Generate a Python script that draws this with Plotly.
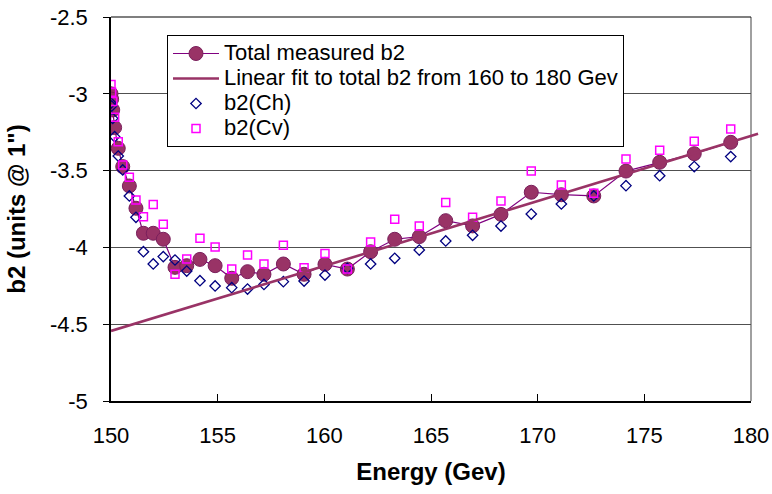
import numpy as np
import plotly.graph_objects as go

# Beam energy (GeV) of each measurement
energy = [150.0, 150.03, 150.08, 150.17, 150.34, 150.55, 150.86, 151.17, 151.52, 151.98,
          152.45, 153.0, 153.55, 154.17, 154.88, 155.66, 156.4, 157.17, 158.08, 159.05,
          160.03, 161.08, 162.17, 163.3, 164.45, 165.69, 166.95, 168.28, 169.7, 171.11,
          172.63, 174.14, 175.72, 177.34, 179.05]

# Total measured b2 (units @ 1")
total_b2 = [-3.0, -3.035, -3.105, -3.22, -3.355, -3.474, -3.60, -3.745, -3.908, -3.908,
            -3.947, -4.13, -4.119, -4.078, -4.119, -4.201, -4.158, -4.175, -4.108, -4.175,
            -4.11, -4.141, -4.028, -3.947, -3.93, -3.826, -3.86, -3.785, -3.641, -3.657,
            -3.665, -3.503, -3.446, -3.39, -3.316]

# Horizontal-coil component b2(Ch)
b2_ch = [-3.06, -3.08, -3.16, -3.279, -3.405, -3.496, -3.665, -3.804, -4.028, -4.108,
         -4.06, -4.082, -4.154, -4.217, -4.251, -4.262, -4.271, -4.241, -4.223, -4.219,
         -4.18, -4.136, -4.108, -4.071, -4.017, -3.958, -3.921, -3.861, -3.783, -3.717,
         -3.665, -3.598, -3.533, -3.474, -3.409]

# Vertical-coil component b2(Cv)
b2_cv = [-2.94, -2.99, -3.05, -3.153, -3.312, -3.464, -3.544, -3.691, -3.80, -3.72,
         -3.85, -4.175, -4.076, -3.941, -3.997, -4.141, -4.05, -4.108, -3.986, -4.132,
         -4.039, -4.141, -3.965, -3.817, -3.861, -3.707, -3.804, -3.698, -3.503, -3.594,
         -3.648, -3.424, -3.368, -3.309, -3.229]

series_names = ["Total measured b2", "Linear fit to total b2 from 160 to 180 Gev",
                "b2(Ch)", "b2(Cv)"]

# Fit window and the span over which the fitted line is drawn
fit_window = [160, 180]
fit_span = [150, 180.33]

x_ticks = [150, 155, 160, 165, 170, 175, 180]
y_ticks = [-5, -4.5, -4, -3.5, -3, -2.5]

# Least-squares line through the total b2 inside the fit window
e = np.array(energy)
t = np.array(total_b2)
sel = (e >= fit_window[0]) & (e <= fit_window[1])
slope, intercept = np.polyfit(e[sel], t[sel], 1)
fit_y = [intercept + slope * x for x in fit_span]

W, H = 772, 494
L, R, T, B = 111, 0, 17, 93
plot_w = W - L - R
axis_w = 640
x_dom_end = axis_w / plot_w
x_min, x_max = x_ticks[0], x_ticks[-1]
x2_max = x_min + plot_w * (x_max - x_min) / axis_w

FONT = "Liberation Sans, Arial, sans-serif"
PLUM = "#993366"

# Legend rows are packed tightly: the legend's own font size sets the row
# pitch (1.3 * size + 3 px), while the entry text is rendered larger via a span.
LEGEND_TEXT_PX = 22
LEGEND_ROW_PITCH = 25
LEGEND_ROW_FONT = (LEGEND_ROW_PITCH - 3) / 1.3


def legend_label(text):
    return '<span style="font-size:%dpx">%s</span>' % (LEGEND_TEXT_PX, text)


fig = go.Figure()

fig.add_trace(go.Scatter(
    x=energy, y=total_b2, name=legend_label(series_names[0]), mode="lines+markers", legendrank=1,
    line=dict(color="#800080", width=1.2),
    marker=dict(symbol="circle", size=14, color=PLUM, line=dict(color="#7a1f5c", width=1)),
))

fig.add_trace(go.Scatter(
    x=energy, y=b2_ch, name=legend_label(series_names[2]), mode="markers", legendrank=3,
    marker=dict(symbol="diamond-open", size=8, color="#000080", line=dict(color="#000080", width=1.3)),
))

fig.add_trace(go.Scatter(
    x=energy, y=b2_cv, name=legend_label(series_names[3]), mode="markers", legendrank=4,
    marker=dict(symbol="square-open", size=8, color="#FF00FF", line=dict(color="#FF00FF", width=1.5)),
))

# The fitted line lives on an overlapping subplot whose x-axis runs a little
# past 180 GeV, so the line can continue beyond the frame of the main axes.
fig.add_trace(go.Scatter(
    x=fit_span, y=fit_y, name=legend_label(series_names[1]), legendrank=2,
    mode="lines", line=dict(color=PLUM, width=2.6), xaxis="x2", yaxis="y2",
))

fig.update_layout(
    width=W, height=H,
    margin=dict(l=L, r=R, t=T, b=B, pad=0, autoexpand=False),
    paper_bgcolor="white", plot_bgcolor="rgba(0,0,0,0)",
    font=dict(family=FONT, size=22, color="black"),
    showlegend=True,
    legend=dict(
        x=(167 - L) / plot_w, y=1 - (35 - T) / (H - T - B),
        xanchor="left", yanchor="top",
        bgcolor="white", bordercolor="black", borderwidth=1,
        font=dict(family=FONT, size=LEGEND_ROW_FONT, color="black"),
        itemwidth=46,
        traceorder="normal", tracegroupgap=0,
    ),
    xaxis=dict(
        domain=[0, x_dom_end], range=[x_min, x_max], automargin=False,
        tickvals=x_ticks, ticktext=[str(v) for v in x_ticks],
        ticks="inside", ticklen=7, tickcolor="black", tickwidth=1,
        ticklabelstandoff=14,
        showline=True, linecolor="black", linewidth=1.5,
        showgrid=False, zeroline=False,
        tickfont=dict(family=FONT, size=22),
        title=dict(text="Energy (Gev)", font=dict(family=FONT, size=24, weight="bold"), standoff=16),
        anchor="y",
    ),
    yaxis=dict(
        domain=[0, 1], range=[-5, -2.5], automargin=False,
        tickvals=y_ticks, ticktext=[("%g" % v) for v in y_ticks],
        ticks="outside", ticklen=6, tickcolor="black", tickwidth=1,
        ticklabelstandoff=11,
        showline=True, linecolor="black", linewidth=1.5,
        showgrid=True, gridcolor="#505050", gridwidth=1,
        zeroline=False,
        tickfont=dict(family=FONT, size=22),
        title=dict(text='b2 (units @ 1")', font=dict(family=FONT, size=24, weight="bold"), standoff=18),
        anchor="x",
    ),
    xaxis2=dict(domain=[0, 1], range=[x_min, x2_max], visible=False, anchor="y2",
                fixedrange=True, automargin=False),
    yaxis2=dict(domain=[0, 1], range=[-5, -2.5], visible=False, anchor="x2",
                fixedrange=True, automargin=False),
    shapes=[
        dict(type="line", xref="x domain", yref="y domain", x0=1, x1=1, y0=0, y1=1,
             line=dict(color="#808080", width=1.5), layer="below"),
        dict(type="line", xref="x domain", yref="y domain", x0=0, x1=1, y0=1, y1=1,
             line=dict(color="black", width=1.2), layer="below"),
    ],
)

fig.write_html("out.html")
